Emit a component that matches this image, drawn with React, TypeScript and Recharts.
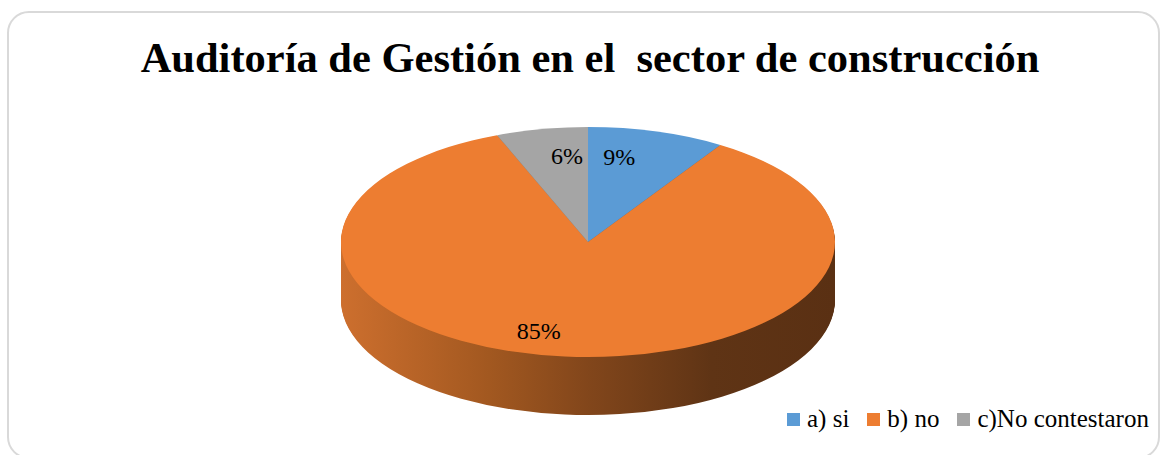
import { PieChart, Pie, Cell } from "recharts";

const categories = ["a) si", "b) no", "c)No contestaron"];
const shares = [9, 85, 6];
const topColors = ["#5B9BD5", "#ED7D31", "#A5A5A5"];
const sideColors = ["#3A6A96", "url(#sideGrad)", "#6E6E6E"];

const chartData = categories.map((name, i) => ({ name, value: shares[i] }));

// pie geometry (in unscaled svg units)
const R = 247;
const CX = 260;
const CY = 260;
const TILT = 115 / 247; // vertical squash of the top face
const DEPTH_PX = 58;
const LAYERS = 64;
const depthUnits = DEPTH_PX / TILT;
const sideLayers = Array.from({ length: LAYERS }, (_, i) => LAYERS - i);

// screen position of the pie centre
const PIE_X = 588;
const PIE_Y = 242;

const RADIAN = Math.PI / 180;
const SERIF = "'Liberation Serif', 'Times New Roman', serif";

// labels come from an unscaled overlay pie, projected onto the tilted face
function renderLabel(props: any) {
  const { cx, cy, midAngle, outerRadius, value, percent } = props;
  const big = percent > 0.5;
  const f = big ? 0.8 : 0.75;
  // signed distance from 12 o'clock, in -180..180
  const toTop = ((((90 - midAngle) % 360) + 540) % 360) - 180;
  const ang = big ? midAngle - 9 : midAngle + toTop * 0.4;
  const x = cx + outerRadius * f * Math.cos(-ang * RADIAN);
  const y = cy + outerRadius * f * Math.sin(-ang * RADIAN) * TILT;
  return (
    <text
      x={x}
      y={y}
      textAnchor="middle"
      dominantBaseline="central"
      fill="#000"
      fontFamily="Liberation Serif"
      fontSize={24}
    >
      {`${value}%`}
    </text>
  );
}

export default function App() {
  return (
    <div
      style={{
        position: "absolute",
        left: 0,
        top: 0,
        width: 1160,
        height: 455,
        overflow: "hidden",
        background: "#fff",
        fontFamily: SERIF,
      }}
    >
      <div
        style={{
          position: "absolute",
          left: 7,
          top: 11,
          width: 1153,
          height: 448,
          boxSizing: "border-box",
          border: "2px solid #d9d9d9",
          borderRadius: 22,
        }}
      />
      <div
        style={{
          position: "absolute",
          left: 0,
          width: 1180,
          top: 30,
          textAlign: "center",
          fontWeight: "bold",
          fontSize: 42.5,
          lineHeight: "56px",
          whiteSpace: "pre",
        }}
      >
        {"Auditoría de Gestión en el  sector de construcción"}
      </div>

      <div
        style={{
          position: "absolute",
          left: PIE_X - CX,
          top: PIE_Y - CY * TILT,
          width: 520,
          height: 640,
          transform: `scaleY(${TILT})`,
          transformOrigin: "top left",
        }}
      >
        <PieChart width={520} height={640} margin={{ top: 0, right: 0, bottom: 0, left: 0 }}>
          <defs>
            <linearGradient id="sideGrad" gradientUnits="userSpaceOnUse" x1={CX - R} y1={0} x2={CX + R} y2={0}>
              <stop offset="0%" stopColor="#CD6F2E" />
              <stop offset="30%" stopColor="#A25820" />
              <stop offset="50%" stopColor="#82461B" />
              <stop offset="75%" stopColor="#5F3415" />
              <stop offset="100%" stopColor="#5A3013" />
            </linearGradient>
          </defs>
          {/* side of the 3d pie: the same pie stacked downwards */}
          {sideLayers.map((layer) => (
            <Pie
              key={`side-${layer}`}
              data={chartData}
              dataKey="value"
              cx={CX}
              cy={CY + (layer * depthUnits) / LAYERS}
              outerRadius={R}
              startAngle={90}
              endAngle={-270}
              stroke="none"
              label={false}
              labelLine={false}
              isAnimationActive={false}
            >
              {chartData.map((_, i) => (
                <Cell key={`s-${layer}-${i}`} fill={sideColors[i]} />
              ))}
            </Pie>
          ))}
          <Pie
            data={chartData}
            dataKey="value"
            cx={CX}
            cy={CY}
            outerRadius={R}
            startAngle={90}
            endAngle={-270}
            stroke="none"
            label={false}
            labelLine={false}
            isAnimationActive={false}
          >
            {chartData.map((_, i) => (
              <Cell key={`t-${i}`} fill={topColors[i]} />
            ))}
          </Pie>
        </PieChart>
      </div>

      <div style={{ position: "absolute", left: PIE_X - CX, top: PIE_Y - 150, width: 520, height: 300 }}>
        <PieChart width={520} height={300} margin={{ top: 0, right: 0, bottom: 0, left: 0 }}>
          <Pie
            data={chartData}
            dataKey="value"
            cx={CX}
            cy={150}
            outerRadius={R}
            startAngle={90}
            endAngle={-270}
            fill="none"
            stroke="none"
            label={renderLabel}
            labelLine={false}
            isAnimationActive={false}
          >
            {chartData.map((_, i) => (
              <Cell key={`l-${i}`} fill="none" />
            ))}
          </Pie>
        </PieChart>
      </div>

      {/* Legend */}
      <div
        style={{
          position: "absolute",
          left: 787,
          top: 405,
          display: "flex",
          alignItems: "center",
          whiteSpace: "nowrap",
          fontSize: 25,
          color: "#000",
        }}
      >
        {categories.map((name, i) => (
          <div key={name} style={{ display: "flex", alignItems: "center", marginRight: 18 }}>
            <span style={{ display: "inline-block", width: 13, height: 13, background: topColors[i], marginRight: 7 }} />
            <span>{name}</span>
          </div>
        ))}
      </div>
    </div>
  );
}
